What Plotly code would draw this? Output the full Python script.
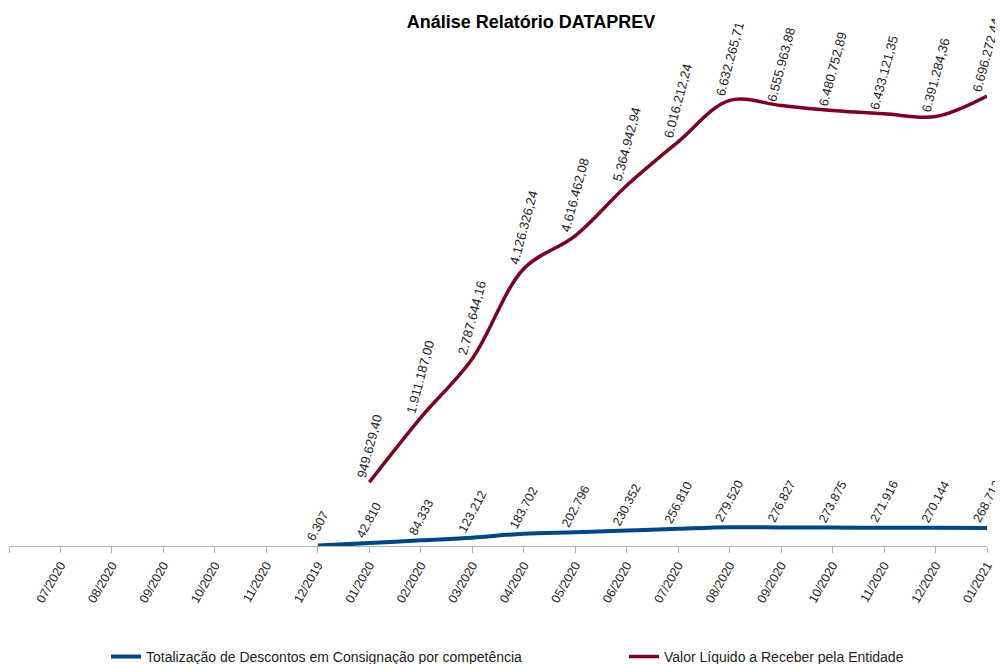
import plotly.graph_objects as go

categories = ["", "07/2020", "08/2020", "09/2020", "10/2020", "11/2020",
              "12/2019", "01/2020", "02/2020", "03/2020", "04/2020", "05/2020",
              "06/2020", "07/2020", "08/2020", "09/2020", "10/2020", "11/2020",
              "12/2020", "01/2021"]

# Totalização de Descontos em Consignação por competência (12/2019 .. 01/2021)
descontos = [6307, 42810, 84333, 123212, 183702, 202796, 230352, 256810,
             279520, 276827, 273875, 271916, 270144, 268712]
descontos_start = 6  # index of 12/2019

# Valor Líquido a Receber pela Entidade (01/2020 .. 01/2021)
liquido = [949629.40, 1911187.00, 2787644.16, 4126326.24, 4616462.08,
           5364942.94, 6016212.24, 6632265.71, 6555963.88, 6480752.89,
           6433121.35, 6391284.36, 6696272.44]
liquido_start = 7  # index of 01/2020

BLUE = "#004586"
RED = "#7e0021"
FONT = "Liberation Sans"
W, H = 995, 656  # page body adds an 8px margin


def br(v, dec):
    s = f"{v:,.{dec}f}"
    return s.replace(",", "X").replace(".", ",").replace("X", ".")


xb = list(range(descontos_start, descontos_start + len(descontos)))
xr = list(range(liquido_start, liquido_start + len(liquido)))

fig = go.Figure()
fig.add_trace(go.Scatter(x=xb, y=descontos, mode="lines", legend="legend",
                         name="Totalização de Descontos em Consignação por competência",
                         line=dict(color=BLUE, width=4, shape="spline", smoothing=1)))
fig.add_trace(go.Scatter(x=xr, y=liquido, mode="lines", legend="legend2",
                         name="Valor Líquido a Receber pela Entidade",
                         line=dict(color=RED, width=3.5, shape="spline", smoothing=1)))

ann = []
for x, v in zip(xb, descontos):
    ann.append(dict(x=x, y=v, xref="x", yref="y", text=br(v, 0), showarrow=False,
                    textangle=-62, xanchor="center", yanchor="bottom", yshift=0,
                    font=dict(family=FONT, size=12.5, color="#222222")))
for x, v in zip(xr, liquido):
    ann.append(dict(x=x, y=v, xref="x", yref="y", text=br(v, 2), showarrow=False,
                    textangle=-75, xanchor="center", yanchor="bottom", yshift=0,
                    font=dict(family=FONT, size=13, color="#222222")))

leg_common = dict(orientation="h", xanchor="left", y=-0.215, yanchor="middle",
                  bgcolor="rgba(0,0,0,0)",
                  font=dict(family=FONT, size=14, color="#222222"))

fig.update_layout(
    width=W, height=H,
    margin=dict(l=1, r=16, t=22, b=118, autoexpand=False),
    paper_bgcolor="white", plot_bgcolor="white",
    font=dict(family=FONT, size=12, color="#222222"),
    title=dict(text="<b>Análise Relatório DATAPREV</b>", x=523 / W, xanchor="center",
               y=1 - 14 / H, yanchor="middle",
               font=dict(family=FONT, size=18, color="#000000")),
    xaxis=dict(range=[0, len(categories) - 1], tickmode="array",
               tickvals=list(range(len(categories))), ticktext=categories,
               tickangle=-60, showline=True, linecolor="#b3b3b3", linewidth=1,
               ticks="outside", ticklen=6, tickcolor="#b3b3b3",
               showgrid=False, zeroline=False,
               tickfont=dict(family=FONT, size=12.5, color="#222222")),
    yaxis=dict(range=[0, 7.68e6], visible=False, showgrid=False, zeroline=False),
    showlegend=True,
    legend=dict(x=0.0992, **leg_common),
    legend2=dict(x=0.6288, **leg_common),
    annotations=ann,
)

fig.write_html("out.html")
